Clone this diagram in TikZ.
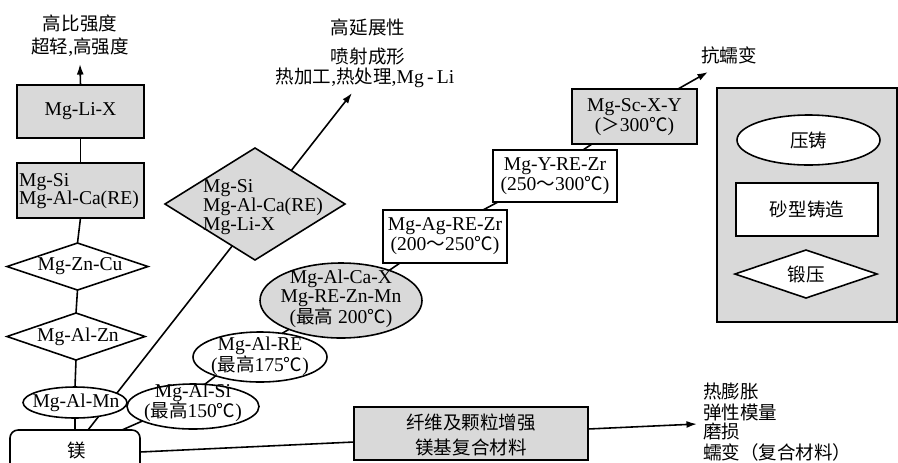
\documentclass[tikz,border=0pt]{standalone}
\usepackage{fontspec}
\setmainfont{Liberation Serif}
\newfontfamily\cjk{Noto Sans CJK SC}
\usetikzlibrary{shapes.geometric,arrows.meta,backgrounds}
\newcommand\zh[1]{{\cjk\fontsize{15.8}{17}\selectfont #1}}
\newcommand\fsz[1]{\fontsize{16.7}{#1}\selectfont}
\begin{document}
\begin{tikzpicture}[x=0.03cm,y=-0.03cm,
  shp/.style={draw, line width=1.35pt, inner sep=0pt, outer sep=0pt},
  gbox/.style={shp, rectangle, fill=black!15},
  wbox/.style={shp, rectangle, fill=white},
  gdiam/.style={shp, diamond, fill=black!15},
  wdiam/.style={shp, diamond, fill=white},
  gell/.style={shp, ellipse, fill=black!15},
  well/.style={shp, ellipse, fill=white},
  txt/.style={inner sep=0pt, align=center, font=\fsz{17}},
  ln/.style={line width=1.35pt},
  arr/.style={ln, -{Latex[length=9pt,width=6pt]}},
]
\useasboundingbox (0,0) rectangle (898,462);

% ---------- left column ----------
\node[gbox, minimum width=3.81cm, minimum height=1.59cm] (liX) at (80.5,111.5) {};
\node[gbox, minimum width=3.81cm, minimum height=1.65cm] (si) at (80.5,190.5) {};
\node[wdiam, minimum width=4.23cm, minimum height=1.41cm] (zncu) at (77.5,266.5) {};
\node[wdiam, minimum width=4.14cm, minimum height=1.41cm] (alzn) at (76,336.5) {};
\node[well, minimum width=3.12cm, minimum height=0.93cm] (almn) at (75,402.5) {};
\node[shp, rectangle, rounded corners=0.24cm, fill=white, minimum width=3.9cm, minimum height=1.32cm] (mg) at (75,452) {};

% ---------- middle ----------
\node[gdiam, minimum width=5.4cm, minimum height=3.36cm] (d2) at (255,204) {};
\node[well, minimum width=3.96cm, minimum height=1.35cm] (als) at (193,406.5) {};
\node[well, minimum width=4.02cm, minimum height=1.5cm] (alre) at (260,357) {};
\node[gell, minimum width=4.86cm, minimum height=2.25cm] (big) at (341,300.5) {};
\node[wbox, minimum width=3.72cm, minimum height=1.59cm] (ag) at (445,236.5) {};
\node[wbox, minimum width=3.72cm, minimum height=1.56cm] (yre) at (555,176) {};
\node[gbox, minimum width=3.75cm, minimum height=1.65cm] (sc) at (634.5,116.5) {};
\node[gbox, minimum width=7.02cm, minimum height=1.59cm] (fib) at (471,433.5) {};

% ---------- right box ----------
\node[gbox, minimum width=5.4cm, minimum height=7.02cm] (rb) at (807,205) {};
\node[well, minimum width=4.29cm, minimum height=1.5cm] (yz) at (808.5,140) {};
\node[wbox, minimum width=4.26cm, minimum height=1.59cm] (sx) at (807,209.5) {};
\node[wdiam, minimum width=4.26cm, minimum height=1.44cm] (dy) at (806,274) {};

% ---------- free ends ----------
\coordinate (a1) at (80,64);
\coordinate (a2) at (352,93);
\coordinate (a3) at (708,72);
\coordinate (a4) at (697,424);

% ---------- connectors ----------
\begin{pgfonlayer}{background}
\draw[arr] ([xshift=0.39cm]mg.north) -- (a2);
\end{pgfonlayer}
\draw[arr] (liX.north) -- (a1);
\draw[ln] (liX.south) -- (si.north);
\draw[ln] (si.south) -- (zncu.north);
\draw[ln] (zncu.south) -- (alzn.north);
\draw[ln] (alzn.south) -- (almn.north);
\draw[ln] (almn.south) -- (mg.north);
\draw[ln] ([xshift=1.41cm]mg.north) -- (als.196);
\draw[ln] (als.62) -- (alre.203);
\draw[ln] (alre.47) -- (big.209);
\draw[ln] (big.32) -- ([xshift=-1.35cm]ag.south);
\draw[ln] ([xshift=1.14cm]ag.north) -- ([xshift=-1.71cm]yre.south);
\draw[ln] ([xshift=0.84cm]yre.north) -- ([xshift=-1.275cm]sc.south);
\draw[arr] ([xshift=1.305cm]sc.north) -- (a3);
\draw[ln] (mg.east) -- ([yshift=-0.255cm]fib.west);
\draw[arr] ([yshift=0.135cm]fib.east) -- (a4);

% ---------- texts ----------
\node[txt] (t1) at (80,23) {\zh{高比强度}};
\node[txt] (t2) at (80,47) {\zh{超轻},\zh{高强度}};
\node[txt] (t3) at (368,27) {\zh{高延展性}};
\node[txt] (t4) at (368,57) {\zh{喷射成形}};
\node[txt] (t5) at (365,78) {\zh{热加工},\zh{热处理},Mg\,-\,Li};
\node[txt] (t6) at (729,55) {\zh{抗蠕变}};

\node[txt] (tliX) at (liX.center) {Mg-Li-X};
\node[txt, anchor=west, align=left, font=\fsz{15.5}] (tsi) at (19,191) {Mg-Si\\Mg-Al-Ca(RE)};
\node[txt] (tzncu) at (80,266.5) {Mg-Zn-Cu};
\node[txt] (talzn) at (78,336.5) {Mg-Al-Zn};
\node[txt] (talmn) at (76,402.5) {Mg-Al-Mn};
\node[txt] (tmg) at (77,450) {\zh{镁}};

\node[txt, anchor=west, align=left, font=\fsz{14}] (td2) at (203,207) {Mg-Si\\Mg-Al-Ca(RE)\\Mg-Li-X};
\node[txt] (tals) at (193,403) {Mg-Al-Si\\(\zh{最高}150\zh{℃})};
\node[txt, font=\fsz{16}] (talre) at (260,356) {Mg-Al-RE\\(\zh{最高}175\zh{℃})};
\node[txt, font=\fsz{16}] (tbig) at (341,299) {Mg-Al-Ca-X\\Mg-RE-Zn-Mn\\(\zh{最高} 200\zh{℃})};
\node[txt] (tag) at (445,236.5) {Mg-Ag-RE-Zr\\(200\zh{～}250\zh{℃})};
\node[txt] (tyre) at (555,176) {Mg-Y-RE-Zr\\(250\zh{～}300\zh{℃})};
\node[txt] (tsc) at (634.5,117) {Mg-Sc-X-Y\\(\zh{＞}300\zh{℃})};
\node[txt, font=\fsz{22}] (tfib) at (471,435) {\zh{纤维及颗粒增强}\\\zh{镁基复合材料}};

\node[txt] (tyz) at (yz.center) {\zh{压铸}};
\node[txt] (tsx) at (sx.center) {\zh{砂型铸造}};
\node[txt] (tdy) at (dy.center) {\zh{锻压}};

\node[txt, anchor=west] (r1) at (703,391) {\zh{热膨胀}};
\node[txt, anchor=west] (r2) at (703,412) {\zh{弹性模量}};
\node[txt, anchor=west] (r3) at (703,432) {\zh{磨损}};
\node[txt, anchor=west] (r4) at (703,452) {\zh{蠕变（复合材料）}};
\end{tikzpicture}
\end{document}
